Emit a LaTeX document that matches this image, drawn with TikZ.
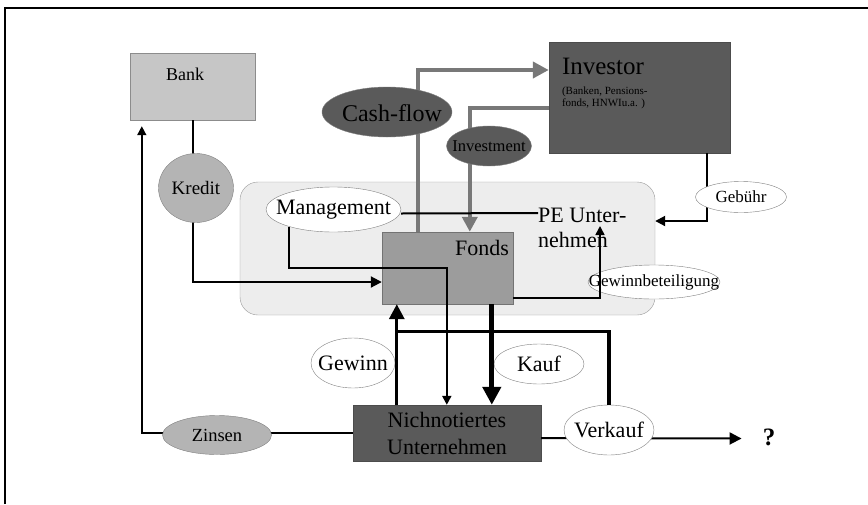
\documentclass[tikz,border=0pt]{standalone}
\usepackage{fontspec}
\setmainfont{Liberation Serif}
\usetikzlibrary{arrows.meta, shapes.geometric, calc, positioning}
\definecolor{darkfill}{HTML}{5A5A5A}
\definecolor{fondsfill}{HTML}{9C9C9C}
\definecolor{bankfill}{HTML}{C6C6C6}
\definecolor{ovalfill}{HTML}{B4B4B4}
\definecolor{pefill}{HTML}{EDEDED}
\definecolor{flowgray}{HTML}{787878}
\newcommand{\txtsize}[1]{\fontsize{#1}{#1}\selectfont}

\begin{document}
\begin{tikzpicture}[x=1pt, y=-1pt,
        box/.style={rectangle, draw=black!45, inner sep=0pt},
        oval/.style={ellipse, draw=black!50, inner sep=0pt},
        arrowtip/.style={-{Triangle[length=#1, width=#1]}}]
        \useasboundingbox (0,0) rectangle (868,504);
        \draw[line width=1.8pt] (5,504) -- (5,8) -- (868,8);
        % the PE company
        \node[box, draw=black!40, fill=pefill, rounded corners=18pt, minimum width=415pt, minimum height=133pt] (pe) at (447.5,248.5) {};
        \node[box, fill=bankfill, minimum width=125pt, minimum height=67pt] (bank) at (192.5,86.5) {};
        \node[font=\txtsize{18}] (banktxt) at (185,74) {Bank};
        \node[box, draw=black!70, fill=darkfill, minimum width=181pt, minimum height=111pt] (investor) at (639.5,97.5) {};
        \node[anchor=north west, inner sep=0pt, font=\txtsize{25}] (invtitle) at ($(investor.north west)+(13,16)$) {Investor};
        \node[anchor=north west, inner sep=0pt, align=left, font=\fontsize{11}{12}\selectfont] (invsub) at ($(investor.north west)+(13,45)$) {(Banken, Pensions-\\fonds, HNWIu.a. )};
        \node[box, draw=black!55, fill=fondsfill, minimum width=131pt, minimum height=72pt] (fonds) at (447.5,268) {};
        \node[anchor=north east, inner sep=0pt, font=\txtsize{22}] (fondstxt) at ($(fonds.north east)+(-4,8)$) {Fonds};
        \node[box, draw=black!70, fill=darkfill, minimum width=188pt, minimum height=56pt] (nichno) at (447,433) {};
        \node[align=center, inner sep=0pt, font=\fontsize{22}{27}\selectfont, text=black] (nichtxt) at (nichno) {Nichnotiertes\\Unternehmen};
        \node[anchor=west, align=left, inner sep=0pt, font=\fontsize{22}{25}\selectfont] (peu) at (538,227.5) {PE Unter-\\nehmen};
        \node[inner sep=0pt, font=\bfseries\txtsize{25}] (q) at (769,437.5) {?};
        \coordinate (qend) at ($(q.west)+(-21,1)$);

        \draw[line width=2pt, arrowtip=11pt] (bank.south) |- ($(fonds.west)+(0,14)$);
        \draw[line width=1.6pt, arrowtip=9pt, shorten >=6pt] (nichno.west) -| ($(bank.south west)+(12,0)$);
        \draw[flowgray, line width=4.2pt, arrowtip=16pt] ($(fonds.north west)+(36,0)$) |- ($(investor.west)+(0,-27.5)$);
        \draw[flowgray, line width=4.2pt, arrowtip=15pt] ($(investor.west)+(0,10.5)$) -| ($(fonds.north west)+(88,0)$);
        \draw[line width=2pt, arrowtip=10pt] ($(investor.south west)+(158,0)$) |- ($(pe.east)+(0,-27.5)$);
        \draw[line width=2pt, arrowtip=12pt] ($(nichno.east)+(0,5)$) -- (qend);

        % labels on the flows
        \node[oval, fill=ovalfill, minimum width=75pt, minimum height=69pt] (kredit) at (196,188) {};
        \node[font=\txtsize{19}] (kredittxt) at (kredit) {Kredit};
        \node[oval, fill=ovalfill, minimum width=109pt, minimum height=39pt] (zinsen) at (217,435) {};
        \node[font=\txtsize{18.5}] (zinsentxt) at (zinsen) {Zinsen};
        \node[oval, fill=darkfill, minimum width=130pt, minimum height=50pt] (cashflow) at (387,112) {};
        \node[font=\txtsize{24}] (cashtxt) at ($(cashflow)+(5,1)$) {Cash-flow};
        \node[oval, fill=darkfill, minimum width=85pt, minimum height=40pt] (invest) at (489,146) {};
        \node[font=\txtsize{16.5}] (investtxt) at (invest) {Investment};
        \node[oval, fill=white, minimum width=91pt, minimum height=31pt] (gebuehr) at (741,197) {};
        \node[font=\txtsize{17}] (gebuehrtxt) at (gebuehr) {Gebühr};
        \node[oval, fill=white, minimum width=84pt, minimum height=50pt] (gewinn) at (353,363) {};
        \node[font=\txtsize{22}] (gewinntxt) at (gewinn) {Gewinn};
        \node[oval, fill=white, minimum width=90pt, minimum height=40pt] (kauf) at (539,364) {};
        \node[font=\txtsize{22}] (kauftxt) at (kauf) {Kauf};
        \node[oval, fill=white, minimum width=90pt, minimum height=50pt] (verkauf) at (609,430) {};
        \node[font=\txtsize{22}] (verkauftxt) at (verkauf) {Verkauf};
        \node[oval, fill=white, minimum width=135pt, minimum height=45pt] (mgmt) at (333.5,209.5) {};
        \node[font=\txtsize{22}] (mgmttxt) at (mgmt) {Management};
        \node[oval, fill=white, minimum width=132pt, minimum height=34pt] (gewbet) at (654,282) {};
        \node[font=\txtsize{17}] (gewbettxt) at (gewbet) {Gewinnbeteiligung};

        \draw[line width=3.2pt, arrowtip=15pt] ($(nichno.north west)+(44,0)$) -- ($(fonds.south west)+(15,0)$);
        \draw[line width=3.2pt] (verkauf.north) |- ($(nichno.north west)+(44,-73)$);
        \draw[line width=5pt, arrowtip=18pt] ($(fonds.south west)+(110,0)$) -- ($(nichno.north west)+(139,0)$);
        \draw[line width=2pt] ($(mgmt.east)+(0,4)$) -- ($(peu.west)+(0,-14.5)$);
        \draw[line width=2pt, arrowtip=9pt] (mgmt.-159) -- ++(0,41) -| ($(nichno.north west)+(94,0)$);
        \draw[line width=1.6pt, arrowtip=9pt] ($(fonds.south east)+(0,-6)$) -| ($(peu.west)+(62,-1.5)$);
    \end{tikzpicture}
\end{document}
